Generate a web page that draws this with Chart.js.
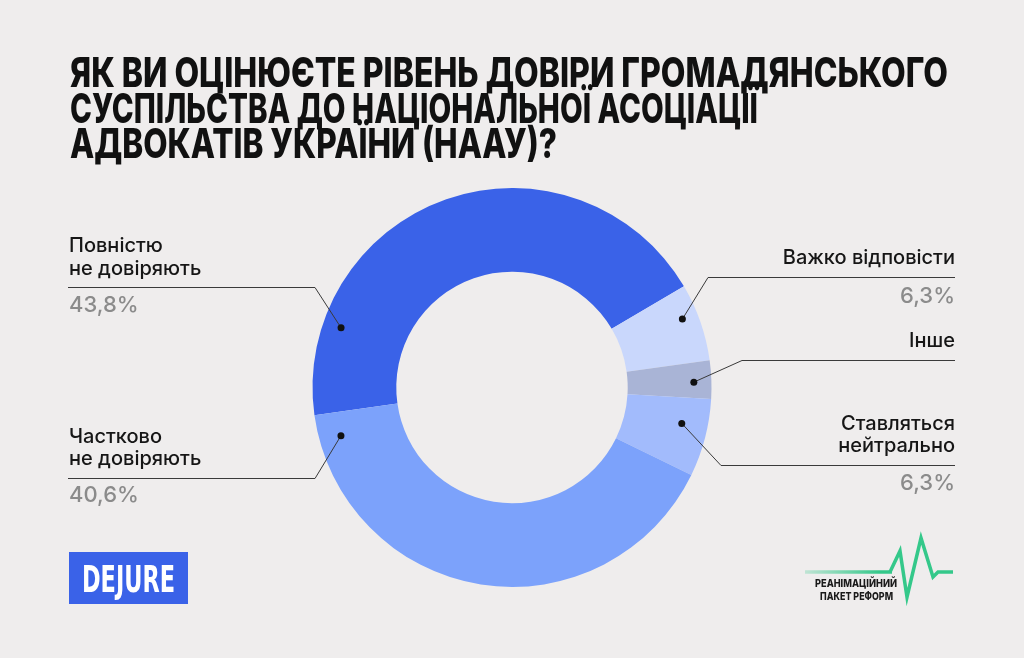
<!DOCTYPE html>
<html>
<head>
<meta charset="utf-8">
<script src="https://cdn.jsdelivr.net/npm/chart.js@4.4.1/dist/chart.umd.min.js"></script>
<style>
  html, body { margin: 0; padding: 0; background: #efeded; }
  #wrap { width: 1024px; height: 658px; }
</style>
</head>
<body>
<div id="wrap"><canvas id="myChart" width="1024" height="658"></canvas></div>
<script>
var titleLines = [
  "ЯК ВИ ОЦІНЮЄТЕ РІВЕНЬ ДОВІРИ ГРОМАДЯНСЬКОГО",
  "СУСПІЛЬСТВА ДО НАЦІОНАЛЬНОЇ АСОЦІАЦІЇ",
  "АДВОКАТІВ УКРАЇНИ (НААУ)?"
];
var labels = ["Повністю не довіряють", "Важко відповісти", "Інше", "Ставляться нейтрально", "Частково не довіряють"];
var labelLines = [["Повністю", "не довіряють"], ["Важко відповісти"], ["Інше"], ["Ставляться", "нейтрально"], ["Частково", "не довіряють"]];
var values = [43.8, 6.3, 3.1, 6.3, 40.6];
var pctLabels = ["43,8%", "6,3%", "", "6,3%", "40,6%"];
var sliceColors = ["#3a62e8", "#c9d7fc", "#a9b4d6", "#a2bbfc", "#7ca2fb"];

// where each callout sits (dot position inside the slice, elbow, line, text)
var callouts = [
  { side: "left",  at: 0.173, rf: 0.78, elbow: [315, 287], endX: 68,  base: [252, 275], pct: 312 },
  { side: "right", at: 0.38,  rf: 0.81, elbow: [708, 277], endX: 955, base: [264],      pct: 303 },
  { side: "right", at: 0.55,  rf: 0.79, elbow: [742, 360], endX: 955, base: [347],      pct: 0 },
  { side: "right", at: 0.38,  rf: 0.69, elbow: [721, 465], endX: 955, base: [430, 452], pct: 490 },
  { side: "left",  at: 0.947, rf: 0.74, elbow: [315, 478], endX: 68,  base: [443, 465], pct: 502 }
];

function fitText(ctx, txt, x, y, w) {
  var m = ctx.measureText(txt).width;
  ctx.save();
  ctx.translate(x, y);
  ctx.scale(w / m, 1);
  ctx.fillText(txt, 0, 0);
  ctx.restore();
}

var decor = {
  id: "decor",
  beforeDraw: function(chart) {
    var ctx = chart.ctx;
    ctx.save();
    ctx.fillStyle = "#efeded";
    ctx.fillRect(0, 0, chart.width, chart.height);
    ctx.restore();
  },
  afterDraw: function(chart) {
    var ctx = chart.ctx;
    ctx.save();

    // title
    ctx.fillStyle = "#111111";
    ctx.font = "800 41px Inter";
    ctx.textBaseline = "alphabetic";
    ctx.textAlign = "left";
    var tw = [878, 688, 487];
    var ty = [87, 123, 158];
    for (var t = 0; t < titleLines.length; t++) {
      fitText(ctx, titleLines[t], 70, ty[t], tw[t]);
    }

    // callouts
    var meta = chart.getDatasetMeta(0);
    for (var i = 0; i < meta.data.length; i++) {
      var arc = meta.data[i];
      var c = callouts[i];
      var a = arc.startAngle + c.at * (arc.endAngle - arc.startAngle);
      var r = arc.innerRadius + c.rf * (arc.outerRadius - arc.innerRadius);
      var dx = arc.x + Math.cos(a) * r;
      var dy = arc.y + Math.sin(a) * r;

      ctx.strokeStyle = "#3a3a3a";
      ctx.lineWidth = 1;
      ctx.beginPath();
      ctx.moveTo(dx, dy);
      ctx.lineTo(c.elbow[0], c.elbow[1] + 0.5);
      ctx.lineTo(c.endX, c.elbow[1] + 0.5);
      ctx.stroke();

      ctx.fillStyle = "#111111";
      ctx.beginPath();
      ctx.arc(dx, dy, 3.5, 0, Math.PI * 2);
      ctx.fill();

      ctx.textAlign = c.side === "left" ? "left" : "right";
      var tx = c.side === "left" ? 69 : 955;
      ctx.font = "500 20px Inter";
      ctx.fillStyle = "#161616";
      for (var k = 0; k < labelLines[i].length; k++) {
        ctx.fillText(labelLines[i][k], tx, c.base[k]);
      }
      if (pctLabels[i]) {
        ctx.font = "500 22px Inter";
        ctx.fillStyle = "#8b8b8b";
        ctx.fillText(pctLabels[i], tx, c.pct);
      }
    }

    // DEJURE logo
    ctx.fillStyle = "#3a62e8";
    ctx.fillRect(69, 552, 119, 52);
    ctx.fillStyle = "#ffffff";
    ctx.textAlign = "left";
    ctx.font = "bold 38px 'DejaVu Sans Condensed'";
    fitText(ctx, "DEJURE", 82, 592, 93);

    // РПР logo
    var grad = ctx.createLinearGradient(805, 0, 880, 0);
    grad.addColorStop(0, "rgba(52,200,138,0.25)");
    grad.addColorStop(1, "rgba(52,200,138,1)");
    ctx.strokeStyle = grad;
    ctx.lineWidth = 3.5;
    ctx.lineJoin = "miter";
    ctx.beginPath();
    ctx.moveTo(805, 572);
    ctx.lineTo(892, 572);
    ctx.stroke();
    ctx.strokeStyle = "#34c88a";
    ctx.beginPath();
    ctx.moveTo(890, 572);
    ctx.lineTo(900, 551);
    ctx.lineTo(907, 597);
    ctx.lineTo(921, 538);
    ctx.lineTo(933, 577);
    ctx.lineTo(938, 572);
    ctx.lineTo(953, 572);
    ctx.stroke();
    ctx.fillStyle = "#1a1a1a";
    ctx.font = "800 11px Inter";
    ctx.textAlign = "left";
    fitText(ctx, "РЕАНІМАЦІЙНИЙ", 815, 587, 82);
    fitText(ctx, "ПАКЕТ РЕФОРМ", 820, 600, 73);

    ctx.restore();
  }
};

new Chart("myChart", {
  type: "doughnut",
  data: {
    labels: labels,
    datasets: [{
      data: values,
      backgroundColor: sliceColors,
      borderWidth: 0
    }]
  },
  options: {
    responsive: false,
    animation: false,
    rotation: -98,
    cutout: "58%",
    layout: { padding: { top: 188, bottom: 71, left: 0, right: 0 } },
    plugins: {
      legend: { display: false },
      tooltip: { enabled: false },
      title: { display: false }
    }
  },
  plugins: [decor]
});
</script>
</body>
</html>
